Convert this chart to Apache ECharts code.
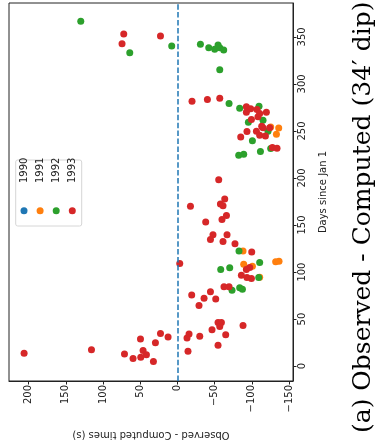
<!DOCTYPE html>
<html>
<head>
<meta charset="utf-8">
<script src="https://cdn.jsdelivr.net/npm/echarts@6/dist/echarts.min.js"></script>
<style>
  html, body { margin: 0; padding: 0; background: #fff; }
  #chart { width: 378px; height: 445px; }
</style>
</head>
<body>
<div id="chart"></div>
<script>
// [O-C seconds, day of year]
const years = ['1990', '1991', '1992', '1993'];
const colors = ['#1f77b4', '#ff7f0e', '#2ca02c', '#d62728'];

const data1990 = [];

const data1991 = [
  [-125.4, 254.1], [-136.2, 253.0], [-133.1, 246.4], [-88.2, 122.5], [-89.1, 108.3],
  [-100.8, 106.2], [-110.6, 94.6], [-132.1, 110.9], [-136.6, 111.5]
];

const data1992 = [
  [130.0, 366.7], [7.7, 340.3], [64.1, 333.2], [-30.9, 342.1], [-42.1, 338.5],
  [-50.1, 336.9], [-54.6, 341.4], [-56.9, 338.5], [-62.2, 336.1], [-56.9, 315.0],
  [-69.4, 279.1], [-83.7, 274.1], [-109.7, 276.2], [-95.4, 259.3], [-115.1, 261.5],
  [-121.8, 249.8], [-100.8, 239.7], [-125.4, 231.3], [-111.6, 228.1], [-82.4, 224.2],
  [-89.1, 225.3], [-82.8, 122.5], [-58.2, 102.7], [-70.3, 104.5], [-110.6, 110.1],
  [-109.3, 94.3], [-73.4, 80.6], [-83.7, 83.4], [-87.4, 81.6]
];

const data1993 = [
  [72.2, 353.0], [74.5, 342.8], [22.8, 350.9], [-19.6, 281.5], [-40.3, 283.3],
  [-56.9, 284.7], [-92.7, 275.6], [-98.5, 273.5], [-107.0, 272.8], [-92.7, 269.9],
  [-119.6, 269.9], [-99.5, 262.2], [-108.3, 265.0], [-110.6, 268.6], [-124.1, 253.4],
  [-113.3, 255.1], [-115.1, 253.4], [-106.2, 249.8], [-110.6, 245.3], [-118.3, 244.6],
  [-93.5, 249.5], [-85.1, 243.5], [-127.7, 232.3], [-133.9, 231.6], [-55.5, 198.1],
  [-63.6, 177.7], [-17.5, 170.0], [-57.8, 172.4], [-61.3, 170.6], [-38.0, 153.1],
  [-65.9, 160.1], [-59.9, 155.9], [-47.8, 139.7], [-44.4, 134.7], [-66.7, 139.7],
  [-61.3, 132.6], [-77.4, 130.2], [-99.9, 121.4], [-3.1, 109.1], [-97.2, 104.9],
  [-92.7, 102.7], [-86.0, 96.7], [-99.5, 93.2], [-93.5, 94.3], [-62.6, 84.5],
  [-69.4, 84.5], [-19.2, 75.6], [-35.8, 72.1], [-44.4, 79.2], [-51.5, 71.4],
  [-29.0, 64.4], [-54.6, 46.5], [-59.1, 46.5], [-56.9, 42.2], [-46.5, 38.6],
  [-88.2, 43.3], [-64.9, 33.4], [-30.0, 31.7], [-15.6, 34.1], [-12.9, 29.9],
  [-54.6, 22.2], [-14.2, 15.8], [206.2, 13.7], [115.6, 17.5], [71.2, 13.0],
  [59.7, 8.0], [49.3, 9.5], [46.2, 16.5], [41.7, 12.2], [32.3, 4.9],
  [49.7, 28.8], [29.6, 24.9], [22.8, 34.8], [12.6, 30.9]
];

const xTicks = [-150, -100, -50, 0, 50, 100, 150, 200];
const yTicks = [0, 50, 100, 150, 200, 250, 300, 350];

const caption = '(a) Observed - Computed (34\u2032 dip)';

const chart = echarts.init(document.getElementById('chart'), null, { renderer: 'canvas' });

const tickFont = { fontFamily: 'DejaVu Sans', fontSize: 10, color: '#222' };
const fmt = (v) => String(v).replace('-', '\u2212');

const seriesData = [data1990, data1991, data1992, data1993];

const legendItems = [];
years.forEach((y, i) => {
  const cx = 24 + i * 16.1;
  legendItems.push({
    type: 'text', x: cx, y: 183, rotation: Math.PI / 2,
    style: { text: y, fill: '#222', font: '10px "DejaVu Sans"', textAlign: 'left', textVerticalAlign: 'middle' }
  });
  legendItems.push({
    type: 'circle', shape: { cx: cx, cy: 210.7, r: 3.5 },
    style: { fill: colors[i] }
  });
});

const option = {
  animation: false,
  grid: {
    left: 9, right: 85, top: 3, bottom: 62,
    show: true, borderColor: '#222', borderWidth: 1, backgroundColor: 'transparent'
  },
  xAxis: {
    type: 'value',
    inverse: true,
    min: -155.4,
    max: 226.5,
    position: 'bottom',
    name: 'Observed - Computed times (s)',
    nameLocation: 'middle',
    nameGap: 49,
    nameRotate: 180,
    nameTextStyle: { fontFamily: 'DejaVu Sans', fontSize: 10, color: '#222' },
    axisLine: { show: true, onZero: false, lineStyle: { color: '#222', width: 1 } },
    axisTick: { show: true, length: 3.5, customValues: xTicks, lineStyle: { color: '#222' } },
    axisLabel: Object.assign({ rotate: 90, margin: 4, customValues: xTicks, formatter: fmt }, tickFont),
    splitLine: { show: false }
  },
  yAxis: {
    type: 'value',
    min: -15.8,
    max: 386,
    position: 'right',
    name: 'Days since Jan 1',
    nameLocation: 'middle',
    nameGap: 25,
    nameRotate: 90,
    nameTextStyle: { fontFamily: 'DejaVu Sans', fontSize: 10, color: '#222' },
    axisLine: { show: true, onZero: false, lineStyle: { color: '#222', width: 1 } },
    axisTick: { show: true, length: 3.5, customValues: yTicks, lineStyle: { color: '#222' } },
    axisLabel: Object.assign({ rotate: 90, margin: 4, customValues: yTicks, formatter: fmt }, tickFont),
    splitLine: { show: false }
  },
  series: years.map((y, i) => ({
    name: y,
    type: 'scatter',
    symbol: 'circle',
    symbolSize: 7,
    itemStyle: { color: colors[i], opacity: 1 },
    data: seriesData[i],
    markLine: i === 3 ? {
      silent: true,
      symbol: 'none',
      label: { show: false },
      lineStyle: { color: colors[0], type: [5.5, 2.4], width: 1.5 },
      data: [{ xAxis: 0 }]
    } : undefined
  })),
  graphic: [
    {
      type: 'rect', shape: { x: 15.7, y: 160, width: 66, height: 66, r: 2 },
      style: { fill: 'rgba(255,255,255,0.8)', stroke: '#d6d6d6', lineWidth: 1 }
    },
    ...legendItems,
    {
      type: 'text', x: 363, y: 433, rotation: Math.PI / 2,
      style: {
        text: caption, fill: '#000', font: '25px "DejaVu Serif"',
        textAlign: 'left', textVerticalAlign: 'middle'
      }
    }
  ]
};

chart.setOption(option);
</script>
</body>
</html>
